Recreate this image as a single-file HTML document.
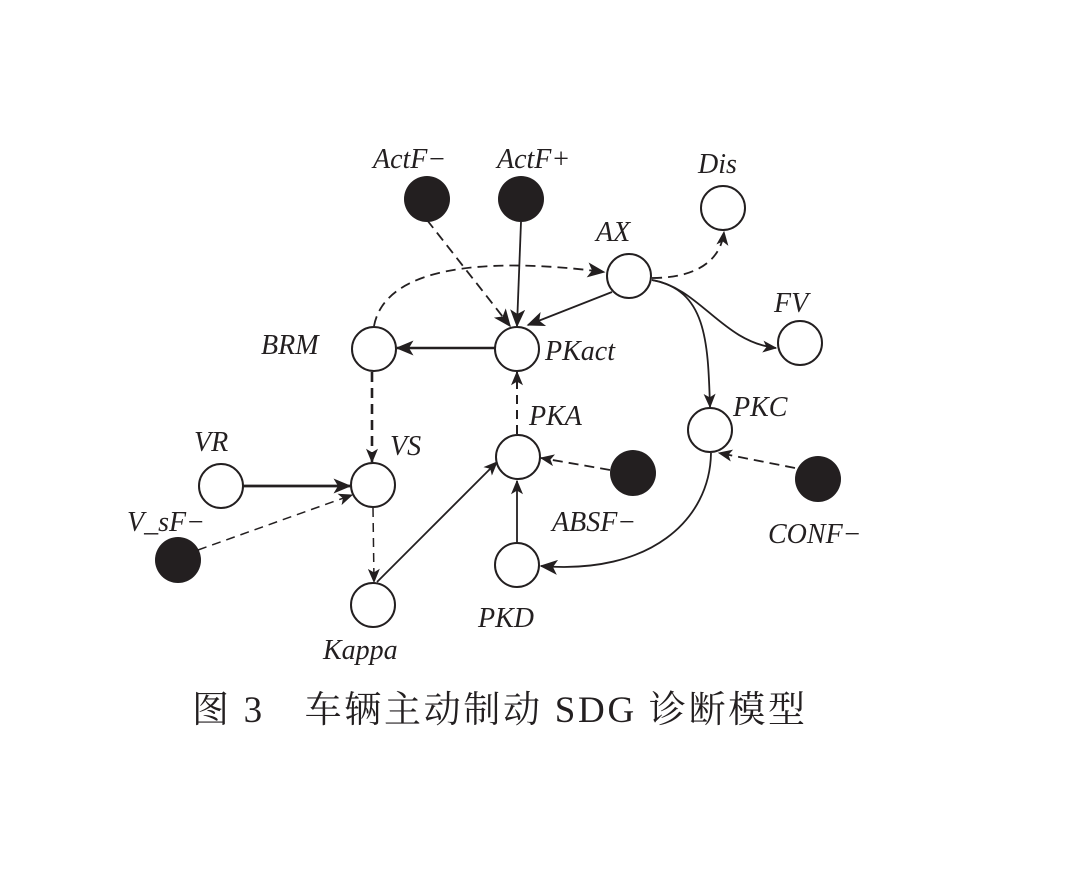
<!DOCTYPE html>
<html><head><meta charset="utf-8"><style>
html,body{margin:0;padding:0;background:#fff;}
svg{display:block}
.l{font-family:"Liberation Serif","Noto Serif CJK SC",serif;font-style:italic;font-size:28px;fill:#231f20}
.cap{font-family:"Liberation Serif","Noto Serif CJK SC",serif;font-size:37px;fill:#231f20}
</style></head><body>
<svg width="1067" height="880" viewBox="0 0 1067 880" xmlns="http://www.w3.org/2000/svg">
<defs>
<marker id="a" viewBox="0 0 12 10" refX="11" refY="5" markerWidth="16" markerHeight="12" markerUnits="userSpaceOnUse" orient="auto">
<path d="M0,0 L12,5 L0,10 L3,5 Z" fill="#231f20"/></marker>
<marker id="b" viewBox="0 0 12 10" refX="11" refY="5" markerWidth="20" markerHeight="15" markerUnits="userSpaceOnUse" orient="auto">
<path d="M0,0 L12,5 L0,10 L3,5 Z" fill="#231f20"/></marker>
</defs>
<g fill="none" stroke="#231f20" stroke-width="1.8">
<path d="M427,220 L510,326" stroke-dasharray="10,6" marker-end="url(#b)"/>
<path d="M521,222 L517,326" marker-end="url(#b)"/>
<path d="M612,292 L528,325" marker-end="url(#b)"/>
<path d="M374,326 C385,268 480,256 604,272" stroke-dasharray="10,6" marker-end="url(#b)"/>
<path d="M652,278 C690,278 720,265 724,232" stroke-dasharray="10,6" marker-end="url(#a)"/>
<path d="M652,280 C700,288 722,342 776,348" marker-end="url(#a)"/>
<path d="M652,280 C706,290 708,340 710,407" marker-end="url(#a)"/>
<path d="M495,348 L397,348" stroke-width="2.6" marker-end="url(#b)"/>
<path d="M372,372 L372,462" stroke-width="2.6" stroke-dasharray="10,6" marker-end="url(#a)"/>
<path d="M243,486 L350,486" stroke-width="2.8" marker-end="url(#b)"/>
<path d="M198,550 L352,495" stroke-width="1.5" stroke-dasharray="9,6" marker-end="url(#a)"/>
<path d="M373,508 L374,582" stroke-width="1.5" stroke-dasharray="9,6" marker-end="url(#a)"/>
<path d="M377,582 L497,462" marker-end="url(#a)"/>
<path d="M517,434 L517,372" stroke-width="2" stroke-dasharray="9,6" marker-end="url(#a)"/>
<path d="M610,470 L541,458" stroke-dasharray="10,6" marker-end="url(#a)"/>
<path d="M517,542 L517,481" marker-end="url(#a)"/>
<path d="M795,468 L719,453" stroke-dasharray="10,6" marker-end="url(#a)"/>
<path d="M711,453 C710,520 650,575 541,566" marker-end="url(#b)"/>
</g>
<g stroke="#231f20" stroke-width="2" fill="#fff">
<ellipse cx="723" cy="208" rx="22" ry="22"/>
<ellipse cx="629" cy="276" rx="22" ry="22"/>
<ellipse cx="800" cy="343" rx="22" ry="22"/>
<ellipse cx="374" cy="349" rx="22" ry="22"/>
<ellipse cx="517" cy="349" rx="22" ry="22"/>
<ellipse cx="710" cy="430" rx="22" ry="22"/>
<ellipse cx="518" cy="457" rx="22" ry="22"/>
<ellipse cx="221" cy="486" rx="22" ry="22"/>
<ellipse cx="373" cy="485" rx="22" ry="22"/>
<ellipse cx="517" cy="565" rx="22" ry="22"/>
<ellipse cx="373" cy="605" rx="22" ry="22"/>
</g>
<g fill="#231f20">
<ellipse cx="427" cy="199" rx="23" ry="23"/>
<ellipse cx="521" cy="199" rx="23" ry="23"/>
<ellipse cx="633" cy="473" rx="23" ry="23"/>
<ellipse cx="818" cy="479" rx="23" ry="23"/>
<ellipse cx="178" cy="560" rx="23" ry="23"/>
</g>
<text class="l" x="373" y="168">ActF−</text>
<text class="l" x="497" y="168">ActF+</text>
<text class="l" x="698" y="173">Dis</text>
<text class="l" x="596" y="241">AX</text>
<text class="l" x="774" y="312">FV</text>
<text class="l" x="261" y="354">BRM</text>
<text class="l" x="545" y="360">PKact</text>
<text class="l" x="733" y="416">PKC</text>
<text class="l" x="529" y="425">PKA</text>
<text class="l" x="194" y="451">VR</text>
<text class="l" x="390" y="455">VS</text>
<text class="l" x="127" y="531">V_sF−</text>
<text class="l" x="552" y="531">ABSF−</text>
<text class="l" x="768" y="543">CONF−</text>
<text class="l" x="478" y="627">PKD</text>
<text class="l" x="323" y="659">Kappa</text>
<text class="cap" x="192" y="722" textLength="613" lengthAdjust="spacing">图 3　车辆主动制动 SDG 诊断模型</text>
</svg>
</body></html>
